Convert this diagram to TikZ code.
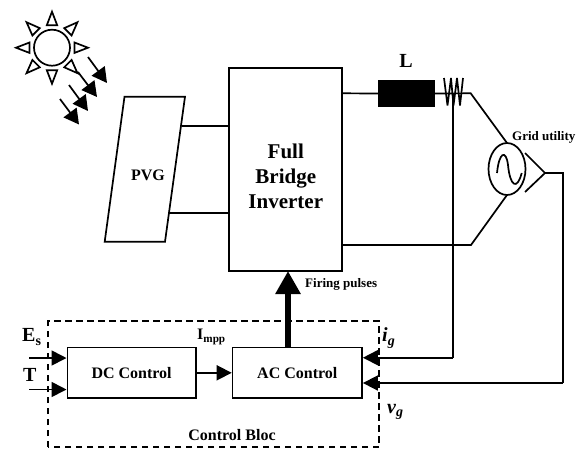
\documentclass[tikz,border=0pt]{standalone}
\usepackage{fontspec}
\setmainfont{Liberation Serif}
\usetikzlibrary{arrows.meta,shapes.geometric}
\tikzset{
  wire/.style={line width=1.7pt},
  tip/.style={wire,-{Triangle[length=15pt,width=15pt]}},
  ray/.style={wire,-{Triangle[length=15pt,width=16pt]}},
  ctlbox/.style={draw,line width=1.7pt,fill=white,font=\bfseries\fontsize{16}{18}\selectfont,inner sep=0pt,anchor=north west},
  lab/.style={font=\bfseries\fontsize{13}{15}\selectfont,inner sep=0pt},
  ray1/.style={draw,line width=1.7pt,fill=white,line join=miter}
}
\begin{document}
\begin{tikzpicture}[x=1pt,y=-1pt]
\useasboundingbox (0,0) rectangle (580,448);
% sun
\coordinate (sun) at (52,47.7);
\draw[line width=1.7pt] (sun) circle (18);
\foreach \a in {0,45,...,315}{
  \draw[ray1,rotate around={\a:(sun)}] (52+22.5,47.7-5.2) -- (52+36,47.7) -- (52+22.5,47.7+5.2) -- cycle;
}
% rays
\coordinate (r1a) at (88,57); \coordinate (r1b) at (107,83);
\coordinate (r2a) at (78,72); \coordinate (r2b) at (97,97);
\coordinate (r3a) at (69,85); \coordinate (r3b) at (88,111);
\coordinate (r4a) at (60,99); \coordinate (r4b) at (79,124.5);
\foreach \k in {1,2,3,4}{ \draw[ray] (r\k a) -- (r\k b); }
% PV generator
\node[draw=none,inner sep=0pt] (pvg) at (148,175) {\bfseries\fontsize{16}{18}\selectfont PVG};
\draw[wire,line join=miter] (124.5,96.7) -- (185,96.7) -- (165,241.7) -- (104.7,241.7) -- cycle;
% inverter
\node[draw,line width=1.7pt,minimum width=113pt,minimum height=202.7pt,inner sep=0pt] (inv) at (285.8,169.4) {};
\node[align=center,inner sep=0pt,font=\bfseries\fontsize{21}{25}\selectfont] (invt) at (285.8,176) {Full\\Bridge\\Inverter};
\coordinate (pv1) at (181.5,125.7); \coordinate (pv2) at (169.3,212.7);
\draw[wire] (pv1) -- (pv1 -| inv.west);
\draw[wire] (pv2) -- (pv2 -| inv.west);
% line side
\coordinate (a0) at (inv.east |- 0,93.3);
\node[fill=black,minimum width=57pt,minimum height=27pt,inner sep=0pt] (L) at (406.5,93.5) {};
\node[font=\bfseries\fontsize{20}{22}\selectfont,inner sep=0pt] (Llab) at (406,61) {L};
\coordinate (c0) at (444,93.3); \coordinate (c1) at (470.7,93.3);
\coordinate (gt) at (507,143); \coordinate (gb) at (507,195);
\coordinate (b1) at (471,245); \coordinate (b0) at (inv.east |- 0,245);
\draw[wire] (a0) -- (L.west);
\draw[wire] (L.east) -- (c1) -- (gt);
\draw[wire,line join=bevel] (444,78) -- (447.5,105.5) -- (451,78) -- (453.5,105.5) -- (457,78) -- (460,105.5) -- (463,78);
\draw[wire] (gb) -- (b1) -- (b0);
\node[draw,ellipse,line width=1.7pt,minimum width=37pt,minimum height=52pt,inner sep=0pt] (grid) at (507,169) {};
\draw[wire] (497,173) .. controls (499,152) and (506,149) .. (508,165) .. controls (510,186) and (517,191) .. (521.7,173);
\node[lab,anchor=west] (gl) at (512,137) {Grid utility};
\coordinate (ch1) at (525,153); \coordinate (ch2) at (545,173); \coordinate (ch3) at (525,192);
\draw[wire,line join=miter] (ch1) -- (ch2) -- (ch3);
% control
\draw[line width=1.7pt,dash pattern=on 6.5pt off 4.5pt] (48,447) -- (48,321) -- (379,321) -- (379,447) -- cycle;
\node[ctlbox,minimum width=128.5pt,minimum height=50.5pt] (dc) at (66.5,346.7) {DC Control};
\node[ctlbox,minimum width=129.5pt,minimum height=50.5pt] (ac) at (231.7,346.7) {AC Control};
\draw[tip] (dc.east) -- (ac.west);
\draw[line width=6pt,-{Triangle[length=23pt,width=24pt]}] (288,346.7) -- (288,271);
\coordinate (es) at (29,358); \coordinate (te) at (29,389.5);
\draw[tip] (es) -- (es -| dc.west);
\draw[tip] (te) -- (te -| dc.west);
\coordinate (ig1) at (452.7,357.7); \coordinate (vg1) at (563,383);
\draw[wire] (452.7,93.3) -- (ig1);
\draw[tip] (ig1) -- (ig1 -| ac.east);
\draw[wire] (ch2) -- (vg1 |- ch2) -- (vg1);
\draw[tip] (vg1) -- (vg1 -| ac.east);
% labels
\node[font=\bfseries\fontsize{20}{22}\selectfont,inner sep=0pt,anchor=west] (les) at (22,337) {E\textsubscript{s}};
\node[font=\bfseries\fontsize{20}{22}\selectfont,inner sep=0pt,anchor=west] (lt) at (23,375) {T};
\node[font=\bfseries\fontsize{16}{18}\selectfont,inner sep=0pt,anchor=west] (imp) at (197,337) {I\textsubscript{mpp}};
\node[lab,anchor=west] (fp) at (305,284) {Firing pulses};
\node[font=\bfseries\itshape\fontsize{20}{22}\selectfont,inner sep=0pt,anchor=west] (ig) at (382,338) {i\textsubscript{g}};
\node[font=\bfseries\itshape\fontsize{20}{22}\selectfont,inner sep=0pt,anchor=west] (vg) at (387,412) {v\textsubscript{g}};
\node[font=\bfseries\fontsize{16}{18}\selectfont,inner sep=0pt] (cb) at (232,435) {Control Bloc};
\end{tikzpicture}
\end{document}
